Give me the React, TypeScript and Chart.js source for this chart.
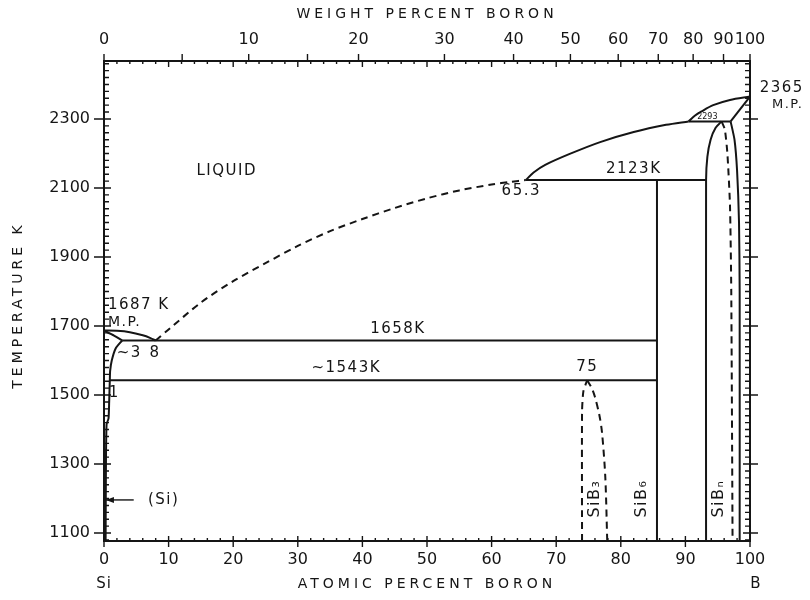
import React, { useEffect, useRef } from 'react';
import { Chart, registerables } from 'chart.js';

Chart.register(...registerables);

type P = [number, number];

const INK = '#151515';
const FONT = '"DejaVu Sans", sans-serif';

// Axis ticks
const bottomTickValues = [0, 10, 20, 30, 40, 50, 60, 70, 80, 90, 100];
const leftTickValues = [1100, 1300, 1500, 1700, 1900, 2100, 2300];
const weightTickLabels = [0, 10, 20, 30, 40, 50, 60, 70, 80, 90, 100];
const weightTickAtomic = [0, 22.4, 39.4, 52.7, 63.4, 72.2, 79.6, 85.8, 91.2, 95.9, 100];
const weightMinorAtomic = [12.1, 31.5];
const tempMin = 1077;
const tempMax = 2468;

// Phase boundaries (atomic % B, temperature K)
const siLiquidus: P[] = [[0, 1687], [2, 1686], [4, 1682], [6, 1673], [7.2, 1665], [8, 1658]];
const siSolidus: P[] = [[0, 1687], [1.5, 1673], [2.8, 1658]];
const siSolvus: P[] = [[2.8, 1658], [1.8, 1635], [1.2, 1600], [0.95, 1570], [0.9, 1543], [0.8, 1480], [0.7, 1432], [0.4, 1415], [0.3, 1300], [0.25, 1077]];
const liquidusDashed: P[] = [[8, 1658], [10, 1690], [15, 1768], [20, 1830], [25, 1882], [30, 1932], [35, 1975], [40, 2010], [45, 2042], [50, 2070], [55, 2093], [60, 2110], [63, 2118], [65.3, 2123]];
const liquidusSolid: P[] = [[65.3, 2123], [66.5, 2145], [68.3, 2167], [72, 2198], [76.8, 2233], [82, 2262], [87, 2283], [90.5, 2293]];
const boronLiquidus: P[] = [[90.5, 2293], [91.5, 2310], [92.5, 2322], [94.3, 2340], [96.9, 2355], [100, 2365]];
const boronSolidus: P[] = [[97.0, 2293], [100, 2365]];
const peritectic2293: P[] = [[90.5, 2293], [97.0, 2293]];
const peritectic2123: P[] = [[65.3, 2123], [93.2, 2123]];
const eutectic1658: P[] = [[2.8, 1658], [85.6, 1658]];
const line1543: P[] = [[0.9, 1543], [85.6, 1543]];
const sib6Line: P[] = [[85.6, 2123], [85.6, 1077]];
const sibnLeft: P[] = [[93.2, 1077], [93.2, 2123], [93.4, 2190], [93.9, 2240], [94.7, 2275], [95.6, 2293]];
const sibnRightDashed: P[] = [[95.6, 2293], [96.1, 2270], [96.5, 2200], [96.9, 2050], [97.1, 1800], [97.3, 1077]];
const boronSolvus: P[] = [[97.0, 2293], [97.6, 2240], [98.0, 2150], [98.3, 2000], [98.4, 1800], [98.4, 1077]];
const sib3Left: P[] = [[74.0, 1077], [74.0, 1450], [74.2, 1510], [74.8, 1543]];
const sib3Right: P[] = [[74.8, 1543], [75.5, 1520], [76.0, 1494], [76.7, 1440], [77.1, 1390], [77.6, 1262], [77.9, 1077]];

// Text annotations: [text, atomic %, temperature, align, size]
const annotations: [string, number, number, CanvasTextAlign, number][] = [
  ['LIQUID', 19, 2150, 'center', 15],
  ['2123K', 82, 2155, 'center', 15],
  ['65.3', 64.6, 2092, 'center', 15],
  ['1658K', 45.5, 1692, 'center', 15],
  ['~1543K', 37.5, 1578, 'center', 15],
  ['75', 74.8, 1582, 'center', 15],
  ['~3', 3.9, 1622, 'center', 15],
  ['8', 7.9, 1622, 'center', 15],
  ['1', 1.6, 1506, 'center', 15],
  ['1687 K', 0.6, 1762, 'left', 15],
  ['M.P.', 0.6, 1712, 'left', 14],
  ['(Si)', 6.8, 1196, 'left', 15],
  ['2293', 93.4, 2306, 'center', 8],
  ['2365', 101.5, 2390, 'left', 15],
  ['M.P.', 103.4, 2342, 'left', 13],
];
const rotatedLabels: [string, number, number][] = [
  ['SiB\u2083', 76.0, 1200],
  ['SiB\u2086', 83.2, 1200],
  ['SiB\u2099', 95.2, 1200],
];
const siArrow: P[] = [[4.6, 1196], [0.3, 1196]];

function ds(pts: P[], dashed = false, tension = 0.3) {
  return {
    data: pts.map(([x, y]) => ({ x, y })),
    showLine: true,
    borderColor: INK,
    backgroundColor: INK,
    borderWidth: 2,
    pointRadius: 0,
    fill: false,
    tension,
    borderDash: dashed ? [7, 5] : [],
  };
}

function text(ctx: CanvasRenderingContext2D, s: string, px: number, py: number, align: CanvasTextAlign, size: number, ls = 1) {
  ctx.font = `${size}px ${FONT}`;
  (ctx as any).letterSpacing = `${ls}px`;
  ctx.textAlign = align;
  ctx.textBaseline = 'middle';
  ctx.fillStyle = INK;
  ctx.fillText(s, px, py);
}

const decorPlugin = {
  id: 'decor',
  afterDatasetsDraw(chart: any) {
    const { ctx, chartArea: a, scales } = chart;
    const x = scales.x;
    const y = scales.y;
    ctx.save();
    ctx.strokeStyle = INK;
    ctx.lineWidth = 2;
    ctx.strokeRect(a.left, a.top, a.right - a.left, a.bottom - a.top);
    ctx.lineWidth = 1.4;
    ctx.beginPath();
    for (let t = 1080; t <= 2460; t += 20) {
      const py = y.getPixelForValue(t);
      ctx.moveTo(a.left, py); ctx.lineTo(a.left + 5, py);
      ctx.moveTo(a.right, py); ctx.lineTo(a.right - 5, py);
    }
    for (const t of leftTickValues) {
      const py = y.getPixelForValue(t);
      ctx.moveTo(a.left - 10, py); ctx.lineTo(a.left + 7, py);
      ctx.moveTo(a.right + 8, py); ctx.lineTo(a.right - 7, py);
    }
    for (let v = 0; v <= 100; v += 2) {
      const px = x.getPixelForValue(v);
      ctx.moveTo(px, a.bottom); ctx.lineTo(px, a.bottom - 3);
      ctx.moveTo(px, a.top); ctx.lineTo(px, a.top + 3);
    }
    for (const v of bottomTickValues) {
      const px = x.getPixelForValue(v);
      ctx.moveTo(px, a.bottom + 6); ctx.lineTo(px, a.bottom - 5);
      ctx.moveTo(px, a.top); ctx.lineTo(px, a.top + 6);
    }
    for (const v of [...weightTickAtomic, ...weightMinorAtomic]) {
      const px = x.getPixelForValue(v);
      ctx.moveTo(px, a.top); ctx.lineTo(px, a.top - 7);
    }
    ctx.stroke();

    // arrow to (Si)
    const ax0 = x.getPixelForValue(siArrow[0][0]);
    const ax1 = x.getPixelForValue(siArrow[1][0]);
    const ay = y.getPixelForValue(siArrow[0][1]);
    ctx.beginPath();
    ctx.moveTo(ax0, ay); ctx.lineTo(ax1, ay);
    ctx.stroke();
    ctx.beginPath();
    ctx.moveTo(ax1, ay); ctx.lineTo(ax1 + 8, ay - 3); ctx.lineTo(ax1 + 8, ay + 3); ctx.closePath();
    ctx.fillStyle = INK; ctx.fill();

    for (const [s, vx, vt, al, sz] of annotations) {
      text(ctx, s, x.getPixelForValue(vx), y.getPixelForValue(vt), al, sz, sz > 10 ? 1.5 : 0);
    }
    for (const [s, vx, vt] of rotatedLabels) {
      ctx.save();
      ctx.translate(x.getPixelForValue(vx), y.getPixelForValue(vt));
      ctx.rotate(-Math.PI / 2);
      text(ctx, s, 0, 0, 'center', 16, 1.5);
      ctx.restore();
    }

    // axis titles
    const cx = (a.left + a.right) / 2;
    text(ctx, 'WEIGHT PERCENT BORON', cx, 14, 'center', 14, 4);
    text(ctx, 'ATOMIC PERCENT BORON', cx, 584, 'center', 14, 4);
    text(ctx, 'Si', x.getPixelForValue(0), 584, 'center', 15, 1);
    text(ctx, 'B', x.getPixelForValue(100) + 6, 584, 'center', 15, 1);
    ctx.save();
    ctx.translate(18, (a.top + a.bottom) / 2 + 4);
    ctx.rotate(-Math.PI / 2);
    text(ctx, 'TEMPERATURE K', 0, 0, 'center', 14, 4);
    ctx.restore();
    ctx.restore();
  },
};

const tickFont = { family: FONT, size: 16 };

export default function App() {
  const ref = useRef<HTMLCanvasElement | null>(null);
  useEffect(() => {
    if (!ref.current) return;
    const datasets = [
      ds(siLiquidus), ds(siSolidus, false, 0.1), ds(siSolvus, false, 0.2),
      ds(liquidusDashed, true), ds(liquidusSolid), ds(boronLiquidus),
      ds(boronSolidus, false, 0), ds(peritectic2293, false, 0), ds(peritectic2123, false, 0),
      ds(eutectic1658, false, 0), ds(line1543, false, 0), ds(sib6Line, false, 0),
      ds(sibnLeft, false, 0.2), ds(sibnRightDashed, true, 0.2), ds(boronSolvus, false, 0.2),
      ds(sib3Left, true, 0.2), ds(sib3Right, true, 0.3),
    ];
    const chart = new Chart(ref.current, {
      type: 'scatter',
      data: { datasets: datasets as any },
      options: {
        animation: false,
        responsive: false,
        devicePixelRatio: 1,
        layout: { padding: { left: 0, right: 60, top: 0, bottom: 0 } },
        plugins: { legend: { display: false }, tooltip: { enabled: false } },
        scales: {
          x: {
            type: 'linear', position: 'bottom', min: 0, max: 100,
            afterBuildTicks: (s: any) => { s.ticks = bottomTickValues.map((v) => ({ value: v })); },
            afterFit: (s: any) => { s.height = 59; },
            ticks: { color: INK, font: tickFont, padding: 9, maxRotation: 0, autoSkip: false, callback: (v: any) => String(v) },
            grid: { display: true, drawOnChartArea: false, drawTicks: false },
            border: { display: false },
          },
          x2: {
            type: 'linear', position: 'top', min: 0, max: 100,
            afterBuildTicks: (s: any) => { s.ticks = weightTickAtomic.map((v) => ({ value: v })); },
            afterFit: (s: any) => { s.height = 61; },
            ticks: { color: INK, font: tickFont, padding: 12, maxRotation: 0, autoSkip: false, callback: (_v: any, i: number) => String(weightTickLabels[i]) },
            grid: { display: true, drawOnChartArea: false, drawTicks: false },
            border: { display: false },
          },
          y: {
            type: 'linear', position: 'left', min: tempMin, max: tempMax,
            afterBuildTicks: (s: any) => { s.ticks = leftTickValues.map((v) => ({ value: v })); },
            afterFit: (s: any) => { s.width = 104; },
            ticks: { color: INK, font: tickFont, padding: 14, autoSkip: false, callback: (v: any) => String(v) },
            grid: { display: true, drawOnChartArea: false, drawTicks: false },
            border: { display: false },
          },
        },
      } as any,
      plugins: [decorPlugin],
    });
    return () => chart.destroy();
  }, []);
  return (
    <div style={{ position: 'fixed', left: 0, top: 0, width: 810, height: 600, background: '#fff' }}>
      <canvas ref={ref} width={810} height={600} />
    </div>
  );
}
